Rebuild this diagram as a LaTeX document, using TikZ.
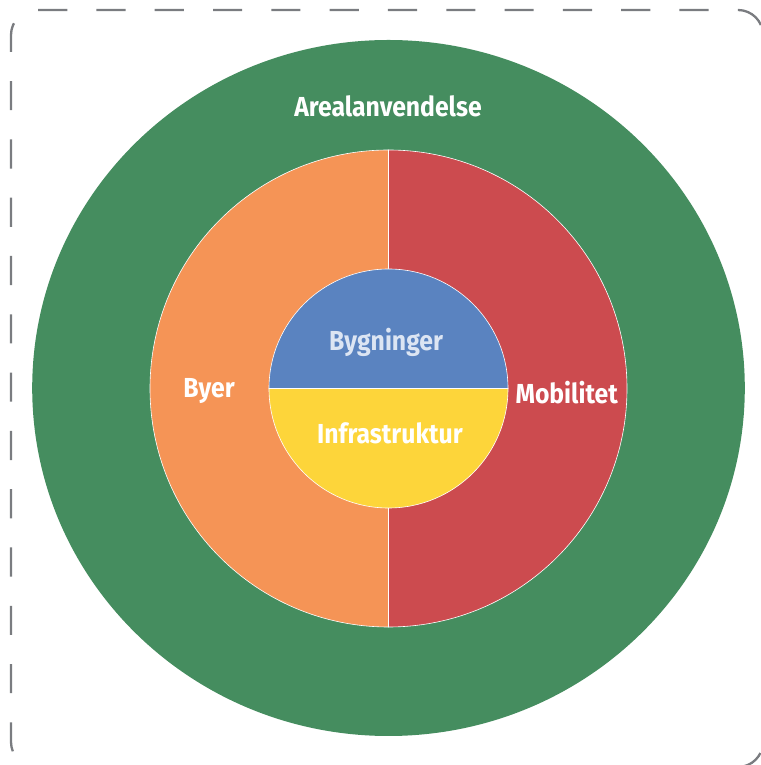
\documentclass[tikz,border=0pt]{standalone}
\usepackage{fontspec}
\newfontfamily\lblfont{Fira Sans}[FakeStretch=0.9]
\definecolor{ringgreen}{HTML}{458D5F}
\definecolor{segorange}{HTML}{F59456}
\definecolor{segred}{HTML}{CC4B4F}
\definecolor{segblue}{HTML}{5A83C0}
\definecolor{segyellow}{HTML}{FDD53A}
\definecolor{lightblue}{HTML}{DCE5F3}
\definecolor{bordergray}{HTML}{7A7C80}
\tikzset{
  lbl/.style={font=\lblfont\bfseries\fontsize{27.5}{30}\selectfont, text=white, inner sep=0pt, anchor=base},
  seg/.style={draw=white, line width=0.6pt},
  frame/.style={draw=bordergray, line width=2.3pt, dash pattern=on 29.15pt off 29.15pt, dash phase=14.43pt}
}
\begin{document}
\begin{tikzpicture}[x=1pt,y=1pt]
\useasboundingbox (0,0) rectangle (760,765);
% dashed frame
\draw[frame] (400,-2) -- (36,-2) arc[start angle=270,end angle=180,radius=25]
  -- (11,730) arc[start angle=180,end angle=90,radius=25]
  -- (738,755) arc[start angle=90,end angle=0,radius=25]
  -- (763,23) arc[start angle=0,end angle=-90,radius=25] -- cycle;
% outer ring
\fill[ringgreen] (388.5,377) ellipse[x radius=356.3, y radius=348];
% middle ring halves
\coordinate (C) at (388.5,376.5);
\fill[segorange,seg] (C) ++(0,238.5) arc[start angle=90,end angle=270,radius=238.5] -- cycle;
\fill[segred,seg] (C) ++(0,238.5) arc[start angle=90,end angle=-90,radius=238.5] -- cycle;
% inner halves
\fill[segblue,seg] (C) ++(119.5,0) arc[start angle=0,end angle=180,radius=119.5] -- cycle;
\fill[segyellow,seg] (C) ++(-119.5,0) arc[start angle=180,end angle=360,radius=119.5] -- cycle;
% labels
\node[lbl] (areal) at (388,648) {Arealanvendelse};
\node[lbl,text=lightblue] (byg) at (386,414.3) {Bygninger};
\node[lbl] (infra) at (390,321) {Infrastruktur};
\node[lbl] (byer) at (209,367.7) {Byer};
\node[lbl] (mob) at (566.7,361) {Mobilitet};
\end{tikzpicture}
\end{document}
